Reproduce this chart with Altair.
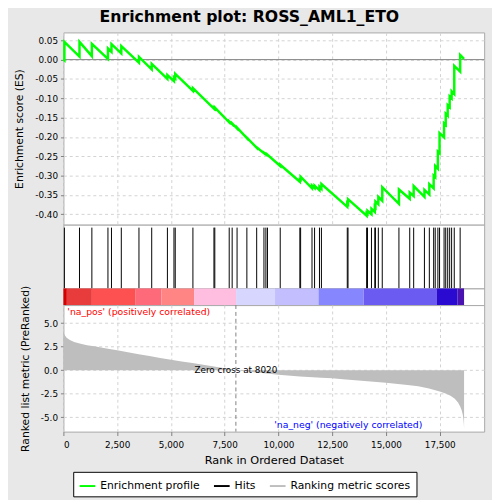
import altair as alt
import pandas as pd

TITLE = "Enrichment plot: ROSS_AML1_ETO"
N_GENES = 18631
X_MAX = 19565
ZERO_CROSS = 8020

# hits (rank in ordered dataset) with running ES just before / after each hit
hit_rank = [46, 748, 1323, 2071, 2235, 2692, 3513, 4106, 4836, 5141, 5200, 6022,
            7000, 7040, 7710, 7847, 8075, 8531, 8987, 9325, 9416, 9489, 10082,
            10995, 11030, 11560, 11679, 11907, 11998, 13200, 13235, 14100, 14140,
            14325, 14480, 14510, 14644, 14827, 15602, 16104, 16287, 16788, 17016,
            17217, 17290, 17413, 17491, 17701, 17778, 17870, 17961, 18052, 18175,
            18449]
es_before = [-0.002, 0.008, 0.009, 0.002, 0.020, 0.016, -0.008, -0.025, -0.050, -0.056, -0.049, -0.081,
             -0.127, -0.127, -0.162, -0.167, -0.178, -0.203, -0.228, -0.242, -0.245, -0.247, -0.275,
             -0.316, -0.311, -0.333, -0.332, -0.338, -0.334, -0.381, -0.373, -0.404, -0.399,
             -0.400, -0.394, -0.382, -0.374, -0.365, -0.373, -0.360, -0.353, -0.355, -0.349,
             -0.333, -0.304, -0.282, -0.242, -0.201, -0.169, -0.145, -0.123, -0.100, -0.089,
             -0.031]
es_after = [0.046, 0.046, 0.041, 0.029, 0.040, 0.035, 0.007, -0.011, -0.040, -0.046, -0.037, -0.074,
            -0.125, -0.124, -0.160, -0.165, -0.176, -0.202, -0.227, -0.241, -0.244, -0.246, -0.272,
            -0.310, -0.303, -0.326, -0.326, -0.329, -0.322, -0.371, -0.361, -0.397, -0.391,
            -0.386, -0.380, -0.367, -0.355, -0.330, -0.336, -0.344, -0.327, -0.337, -0.322,
            -0.300, -0.275, -0.238, -0.190, -0.165, -0.140, -0.118, -0.095, -0.082, -0.016,
            0.012]
es_start = 0.0
es_end = 0.002

# ranked list metric
metric_rank = [0, 30, 80, 150, 300, 500, 800, 1100, 1500, 2000, 2500, 3000, 3500, 4000,
               4500, 5000, 5500, 6000, 6500, 7000, 7500, 8020, 8500, 9000, 10000, 11000,
               12000, 12500, 13000, 14000, 15000, 16000, 16500, 17000, 17500, 17800, 18000,
               18200, 18350, 18450, 18520, 18570, 18600, 18620, 18631]
metric_value = [4.3, 3.9, 3.65, 3.45, 3.2, 3.0, 2.8, 2.65, 2.5, 2.3, 2.1, 1.9, 1.7, 1.5,
                1.3, 1.1, 0.92, 0.75, 0.57, 0.38, 0.2, 0.0, -0.13, -0.25, -0.48, -0.67,
                -0.8, -0.87, -0.96, -1.15, -1.35, -1.57, -1.72, -1.95, -2.26, -2.5, -2.72,
                -3.05, -3.45, -3.85, -4.25, -4.7, -5.2, -5.7, -6.2]

# colour bar segments
bar_start = [0, 160, 1323, 3360, 4560, 6085, 8030, 9840, 11862, 13960, 17350, 18330]
bar_end = [160, 1323, 3360, 4560, 6085, 8030, 9840, 11862, 13960, 17350, 18330, 18631]
bar_color = ["#d40000", "#e83c3c", "#fd5050", "#fe6a7a", "#ff8585", "#ffbde0",
             "#d6d6ff", "#c3bfff", "#8686ff", "#6b5bf0", "#2a0ad0", "#4a12b0"]

series_names = ["Enrichment profile", "Hits", "Ranking metric scores"]
series_colors = ["#00ff00", "#000000", "#bebebe"]

x_ticks = [0, 2500, 5000, 7500, 10000, 12500, 15000, 17500]
es_ticks = [0.05, 0.0, -0.05, -0.10, -0.15, -0.20, -0.25, -0.30, -0.35, -0.40]
metric_ticks = [5.0, 2.5, 0.0, -2.5, -5.0]

pos_label = "'na_pos' (positively correlated)"
neg_label = "'na_neg' (negatively correlated)"

# ---- tables ----
pts_rank = [0]
pts_es = [es_start]
for r, b, a in zip(hit_rank, es_before, es_after):
    pts_rank += [r, r]
    pts_es += [b, a]
pts_rank.append(N_GENES)
pts_es.append(es_end)
es_df = pd.DataFrame({"rank": pts_rank, "es": pts_es, "idx": list(range(len(pts_rank))),
                      "series": series_names[0]})
hits_df = pd.DataFrame({"rank": hit_rank})
metric_df = pd.DataFrame({"rank": metric_rank, "metric": metric_value})
bar_df = pd.DataFrame({"start": bar_start, "end": bar_end, "color": bar_color})
zc_df = pd.DataFrame({"rank": [ZERO_CROSS], "metric": [0.0],
                      "label": [f"Zero cross at {ZERO_CROSS}"]})
zero_df = pd.DataFrame({"es": [0.0]})

W = 429
GRID = "#d2d2d2"
DASH = [3, 3]
FONT = "DejaVu Sans"
FRAME = "#a8a8a8"

x_scale = alt.Scale(domain=[0, X_MAX], nice=False, zero=False)
es_y = alt.Y("es:Q",
             scale=alt.Scale(domain=[-0.427, 0.0703], nice=False, zero=False),
             axis=alt.Axis(values=es_ticks, title="Enrichment score (ES)",
                           labelExpr="datum.value < 0 ? '-' + format(-datum.value, '.2f') : format(datum.value, '.2f')",
                           grid=True, gridColor=GRID, gridDash=DASH, tickSize=3,
                           labelPadding=3, domain=False, tickColor="#808080",
                           titlePadding=10))
top_x = alt.X("rank:Q", scale=x_scale,
              axis=alt.Axis(values=x_ticks, labels=False, ticks=False, domain=False,
                            title=None, grid=True, gridColor=GRID, gridDash=DASH))

zero_line = alt.Chart(zero_df).mark_rule(color="#808080", strokeWidth=1).encode(y=es_y)
es_line = alt.Chart(es_df).mark_line(strokeWidth=2.5).encode(
    x=top_x, y=es_y,
    order="idx:Q",
    color=alt.Color("series:N",
                    scale=alt.Scale(domain=series_names, range=series_colors),
                    legend=alt.Legend(title=None, orient="none", legendX=10, legendY=448,
                                      direction="horizontal", symbolType="stroke",
                                      symbolSize=256, symbolStrokeWidth=2,
                                      labelFontSize=11, labelFont=FONT, labelColor="black",
                                      columnPadding=10, padding=5.5, labelOffset=4,
                                      strokeColor="black", fillColor="white")),
)
es_panel = alt.layer(zero_line, es_line).properties(
    width=W, height=196, view=alt.ViewBackground(fill="white", stroke=FRAME))

hits_panel = alt.Chart(hits_df).mark_rule(color="black", strokeWidth=1).encode(
    x=alt.X("rank:Q", scale=x_scale, axis=None),
    y=alt.value(3), y2=alt.value(65),
).properties(width=W, height=65, view=alt.ViewBackground(fill="white", stroke=FRAME))

bar_panel = alt.Chart(bar_df).mark_rect().encode(
    x=alt.X("start:Q", scale=x_scale, axis=None),
    x2="end:Q",
    color=alt.Color("color:N", scale=None),
).properties(width=W, height=17, view=alt.ViewBackground(fill="white", stroke=FRAME))

m_x = alt.X("rank:Q", scale=x_scale,
            axis=alt.Axis(values=x_ticks, format=",d", title="Rank in Ordered Dataset",
                          grid=True, gridColor=GRID, gridDash=DASH, tickSize=4,
                          labelPadding=5.5, domain=False, tickColor="#808080",
                          titleFontSize=11.5, titlePadding=5))
m_y = alt.Y("metric:Q", scale=alt.Scale(domain=[-6.53, 6.91], nice=False, zero=False),
            axis=alt.Axis(values=metric_ticks, title="Ranked list metric (PreRanked)",
                          labelExpr="datum.value < 0 ? '-' + format(-datum.value, '.1f') : format(datum.value, '.1f')",
                          grid=True, gridColor=GRID, gridDash=DASH, tickSize=3,
                          labelPadding=3, domain=False, tickColor="#808080",
                          titlePadding=10))

area = alt.Chart(metric_df).mark_area(color="#bebebe", opacity=1).encode(
    x=m_x, y=m_y, y2=alt.datum(0))
zc_rule = alt.Chart(zc_df).mark_rule(color="#808080", strokeDash=[4, 3]).encode(x=m_x)
zc_text = alt.Chart(zc_df).mark_text(fontSize=9, font=FONT, color="black",
                                     align="center", baseline="middle").encode(
    x=m_x, y=m_y, text="label:N")
pos_text = alt.Chart(pd.DataFrame({"t": [pos_label]})).mark_text(
    fontSize=9.5, font=FONT, color="#ff0000", align="left", baseline="middle").encode(
    x=alt.value(4), y=alt.value(7), text="t:N")
neg_text = alt.Chart(pd.DataFrame({"t": [neg_label]})).mark_text(
    fontSize=9.5, font=FONT, color="#0000ff", align="right", baseline="middle").encode(
    x=alt.value(366), y=alt.value(122), text="t:N")

metric_panel = alt.layer(area, zc_rule, zc_text, pos_text, neg_text).properties(
    width=W, height=129, view=alt.ViewBackground(fill="white", stroke=FRAME))

chart = alt.vconcat(es_panel, hits_panel, bar_panel, metric_panel, spacing=0,
                    bounds="flush").resolve_scale(
    x="independent", y="independent", color="independent"
).properties(
    title=alt.Title(TITLE, fontSize=16, fontWeight="bold", font=FONT, color="black",
                    anchor="middle", frame="bounds", offset=7),
    background="#e8e8e8",
    padding={"left": 5.5, "top": -4, "right": 7, "bottom": 8},
).configure_axis(
    labelFont=FONT, titleFont=FONT, labelFontSize=9, titleFontSize=11,
    labelColor="black", titleColor="black", titleFontWeight="normal",
)

chart.save("out.html", embed_options={"renderer": "svg", "actions": False})
